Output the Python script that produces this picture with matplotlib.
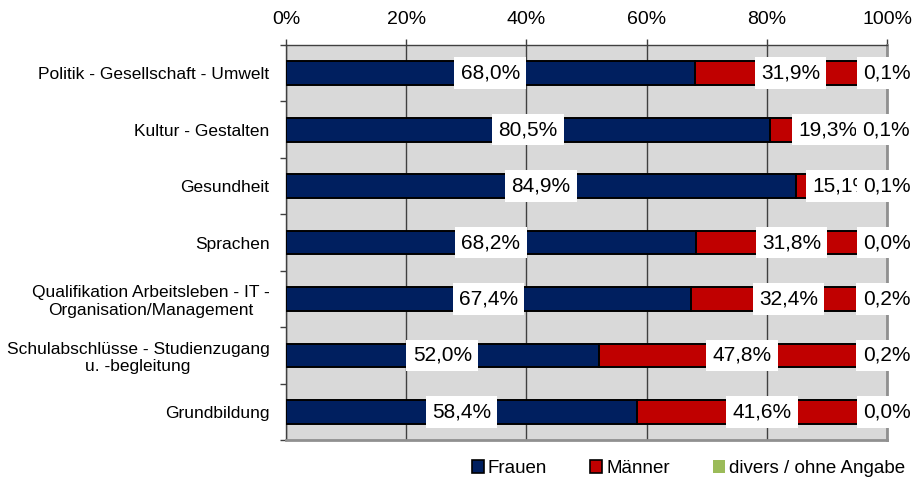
import matplotlib
matplotlib.use('Agg')
import matplotlib.pyplot as plt
from matplotlib.patches import Patch

plt.rcParams['font.family'] = ['Liberation Sans', 'DejaVu Sans']

categories = ['Politik - Gesellschaft - Umwelt',
              'Kultur - Gestalten',
              'Gesundheit',
              'Sprachen',
              'Qualifikation Arbeitsleben - IT -\nOrganisation/Management',
              'Schulabschlüsse - Studienzugang\nu. -begleitung',
              'Grundbildung']
frauen = [68.0, 80.5, 84.9, 68.2, 67.4, 52.0, 58.4]
maenner = [31.9, 19.3, 15.1, 31.8, 32.4, 47.8, 41.6]
divers = [0.1, 0.1, 0.1, 0.0, 0.2, 0.2, 0.0]
series_names = ['Frauen', 'Männer', 'divers / ohne Angabe']
colors = ['#001F5F', '#C00000', '#9BBB59']
xticks = [0, 20, 40, 60, 80, 100]


def fmt(v):
    return ('%.1f' % v).replace('.', ',') + '%'


fig = plt.figure(figsize=(9.19, 4.82), dpi=100)
ax = fig.add_axes([0.3112, 0.0871, 0.6540, 0.8195])
ax.set_facecolor('#D9D9D9')

ypos = list(range(len(categories)))
bar_h = 0.42
left = [0] * len(categories)
lbl_z = 5
for vals, col, name in zip([frauen, maenner, divers], colors, series_names):
    ax.barh(ypos, vals, left=left, height=bar_h, color=col,
            edgecolor='black' if name != series_names[2] else col,
            linewidth=1.4, zorder=3)
    # labels sit in the middle of each segment, later series drawn on top
    for y, l, v in zip(ypos, left, vals):
        ax.text(l + v / 2, y, fmt(v), ha='center', va='center', fontsize=15,
                color='black', zorder=lbl_z, clip_on=False,
                bbox=dict(boxstyle='square,pad=0.3', fc='white', ec='none'))
    lbl_z += 1
    left = [a + b for a, b in zip(left, vals)]

ax.set_xlim(0, 100)
ax.set_ylim(len(categories) - 0.5, -0.5)

ax.xaxis.tick_top()
ax.set_xticks(xticks)
ax.set_xticklabels(['%d%%' % t for t in xticks], fontsize=14)
ax.tick_params(axis='x', direction='out', length=4.5, width=1,
               color='#404040', pad=8)
ax.grid(axis='x', color='#404040', linewidth=1, zorder=1)
ax.set_axisbelow(True)

ax.set_yticks(ypos)
ax.set_yticklabels(categories, fontsize=12.5, multialignment='center')
ax.set_yticks([y - 0.5 for y in range(len(categories) + 1)], minor=True)
ax.tick_params(axis='y', which='major', length=0, pad=12)
ax.tick_params(axis='y', which='minor', direction='out', length=4.5,
               width=1, color='#404040')

for s in ['top', 'left']:
    ax.spines[s].set_color('#404040')
    ax.spines[s].set_linewidth(1)
for s in ['right', 'bottom']:
    ax.spines[s].set_color('#909090')
    ax.spines[s].set_linewidth(2)

handles = [Patch(facecolor=colors[0], edgecolor='black', linewidth=1.2),
           Patch(facecolor=colors[1], edgecolor='black', linewidth=1.2),
           Patch(facecolor=colors[2], edgecolor='none')]
fig.legend(handles, series_names, loc='center', ncol=3,
           bbox_to_anchor=(0.749, 0.028), frameon=False, fontsize=13.5,
           handlelength=0.65, handleheight=0.65, handletextpad=0.2,
           columnspacing=2.3, borderpad=0)

fig.savefig('out.png', dpi=100)
